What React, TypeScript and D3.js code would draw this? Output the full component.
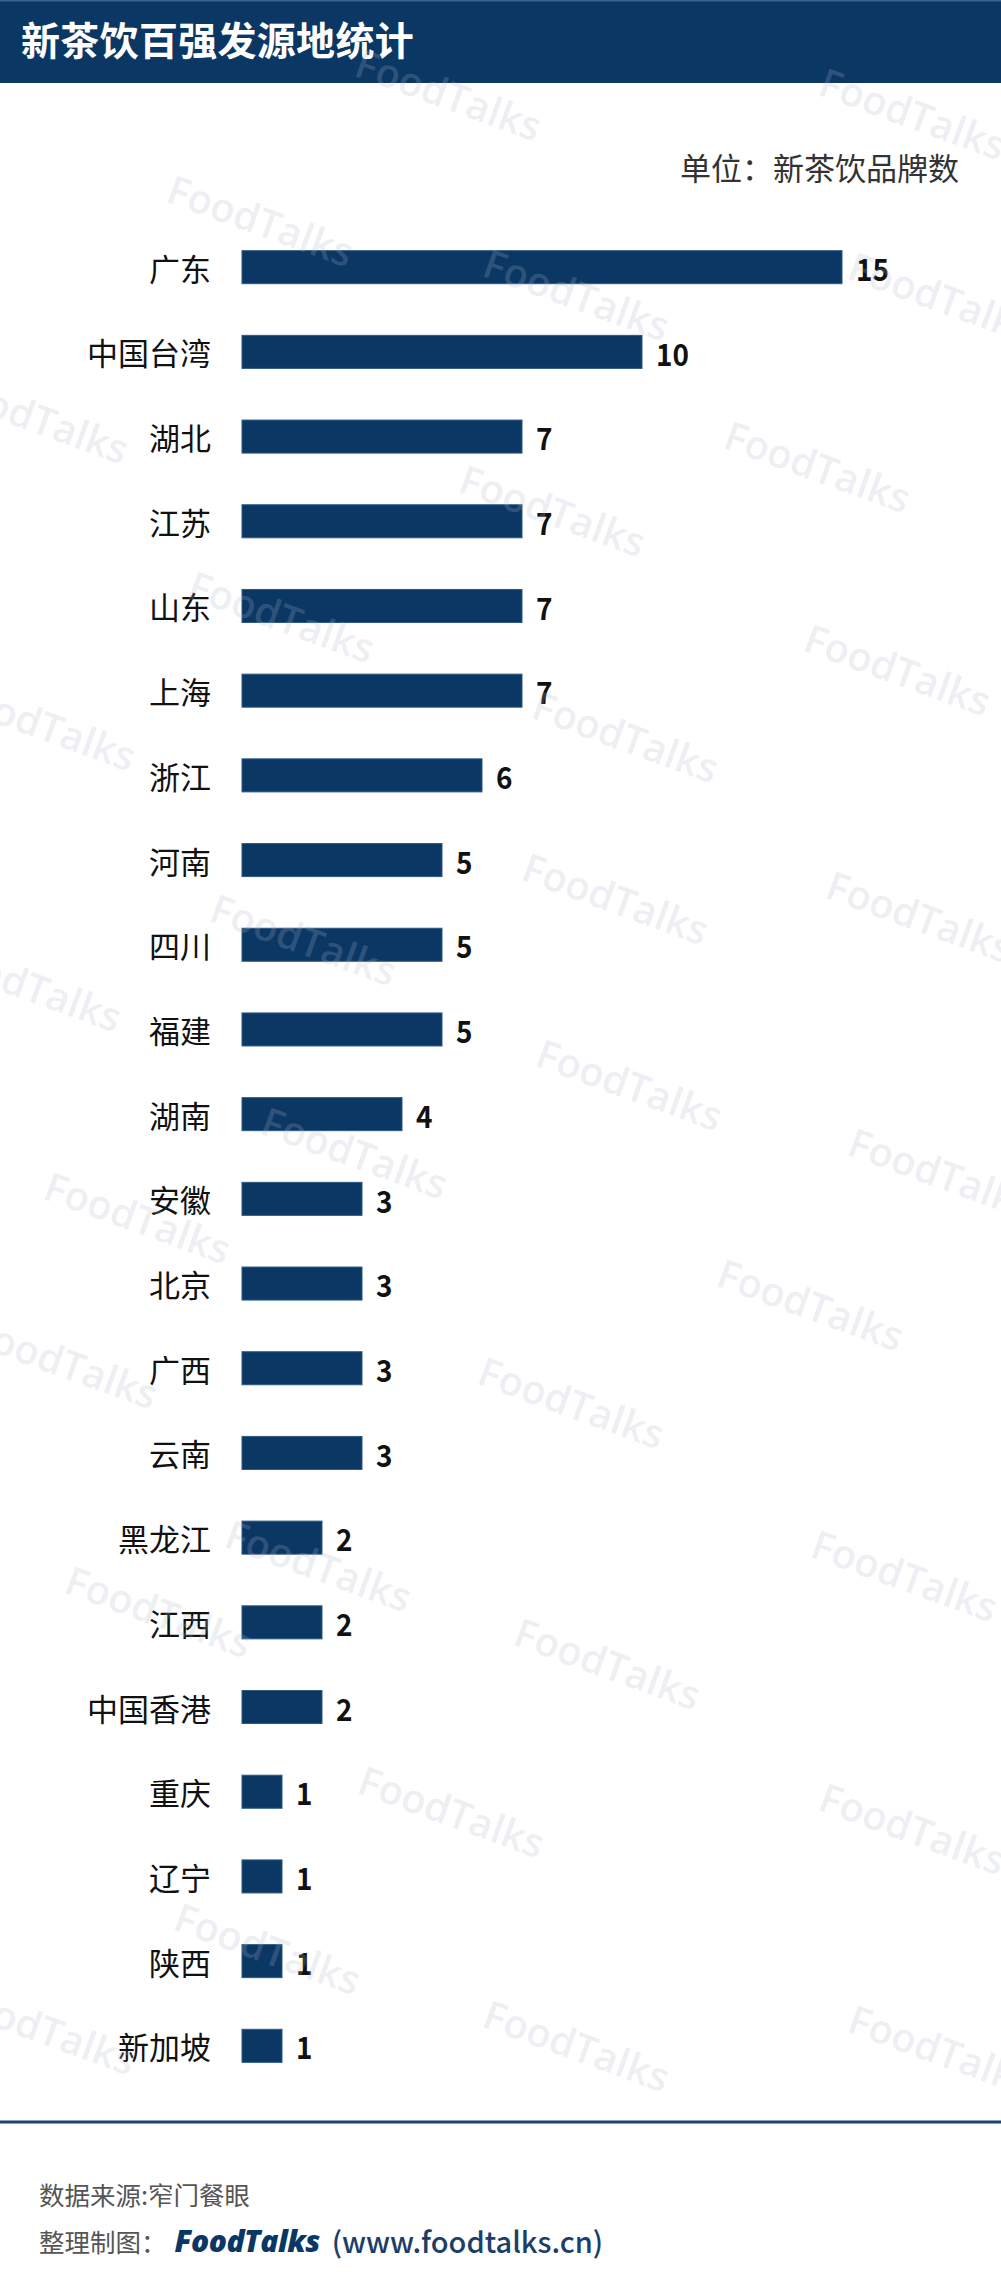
import React from "react";
import * as d3 from "d3";

const categories = ["广东", "中国台湾", "湖北", "江苏", "山东", "上海", "浙江", "河南", "四川", "福建", "湖南", "安徽", "北京", "广西", "云南", "黑龙江", "江西", "中国香港", "重庆", "辽宁", "陕西", "新加坡"];
const values = [15, 10, 7, 7, 7, 7, 6, 5, 5, 5, 4, 3, 3, 3, 3, 2, 2, 2, 1, 1, 1, 1];
const titleText = "新茶饮百强发源地统计";
const unitText = "单位：新茶饮品牌数";
const sourceText = "数据来源:窄门餐眼";
const creditText = "整理制图：";
const brandText = "FoodTalks";
const siteText = "(www.foodtalks.cn)";
const watermarkText = "FoodTalks";
const watermarkSpots = [
  [449, 94], [913, 113], [261, 220], [577, 294], [942, 297], [36, 417], [818, 466], [553, 510],
  [282, 616], [898, 669], [43, 724], [626, 736], [616, 898], [920, 916], [304, 939], [29, 985],
  [630, 1084], [355, 1152], [942, 1173], [138, 1217], [811, 1304], [65, 1362], [572, 1402],
  [319, 1565], [905, 1575], [159, 1611], [608, 1663], [452, 1811], [913, 1828], [268, 1948],
  [577, 2045], [942, 2050], [43, 2028],
];

const W = 1001;
const H = 2273;
const NAVY = "#0b3764";
const CJK = "'Noto Sans CJK SC', 'Noto Sans', sans-serif";

export default function App() {
  const x = d3.scaleLinear().domain([0, 15]).range([242, 842]);
  const y = d3.scaleBand<string>().domain(categories).range([199, 2114]).paddingInner(0.61).paddingOuter(0.61);
  const bw = y.bandwidth();

  return (
    <svg width={W} height={H} style={{ position: "absolute", left: 0, top: 0, background: "#fff" }} xmlns="http://www.w3.org/2000/svg">
      <rect x={0} y={0} width={W} height={H} fill="#fff" />
      {/* header */}
      <rect x={0} y={0} width={W} height={83} fill={NAVY} />
      <rect x={0} y={0} width={W} height={1.5} fill="#3a6590" />
      <text x={21} y={55} fill="#fff" fontFamily={CJK} fontWeight={700} fontSize={39} letterSpacing={0.3}>{titleText}</text>

      <text x={959} y={180} textAnchor="end" fill="#333" fontFamily={CJK} fontWeight={400} fontSize={31}>{unitText}</text>

      {/* bars */}
      <g>
        {categories.map((c, i) => {
          const yy = y(c) as number;
          const cy = yy + bw / 2;
          const vx = x(values[i]) + 14;
          return (
            <g key={c}>
              <text x={211} y={cy} textAnchor="end" dominantBaseline="central" fill="#111" fontFamily={CJK} fontSize={31}>{c}</text>
              <rect x={x(0)} y={yy} width={x(values[i]) - x(0)} height={bw} fill={NAVY} stroke="#2d5984" strokeWidth={1} />
              <text transform={`translate(${vx},${cy}) scale(0.9,1)`} dominantBaseline="central" fill="#111" fontFamily={CJK} fontWeight={700} fontSize={31}>{values[i]}</text>
            </g>
          );
        })}
      </g>

      {/* watermarks */}
      <g pointerEvents="none">
        {watermarkSpots.map(([wx, wy], i) => (
          <text key={i} x={wx} y={wy} textAnchor="middle" dominantBaseline="central" transform={`rotate(20 ${wx} ${wy})`} fill="#aeb6c9" fillOpacity={0.22} fontFamily="'Open Sans', sans-serif" fontWeight={600} fontSize={40}>{watermarkText}</text>
        ))}
      </g>

      {/* footer */}
      <rect x={0} y={2120.5} width={W} height={3} fill="#1b4470" />
      <text x={39} y={2193} dominantBaseline="central" fill="#555" fontFamily={CJK} fontSize={25.5}>{sourceText}</text>
      <text x={39} y={2240} dominantBaseline="central" fill="#555" fontFamily={CJK} fontSize={25.5}>
        {creditText}
        <tspan dx={8} fill={NAVY} fontWeight={800} fontStyle="italic" fontFamily="'Open Sans', sans-serif" fontSize={30} letterSpacing={-0.5}>{brandText}</tspan>
        <tspan dx={12} fill="#1d3f66" fontWeight={500} fontSize={29}>{siteText}</tspan>
      </text>
    </svg>
  );
}
